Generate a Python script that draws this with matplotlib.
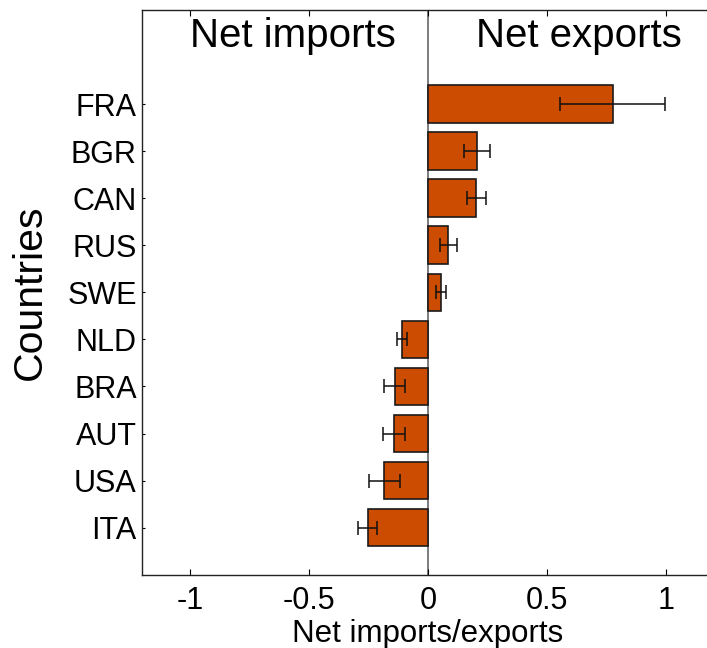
import matplotlib
matplotlib.use("Agg")
import matplotlib.pyplot as plt
import numpy as np

plt.rcParams['font.family'] = ['Liberation Sans', 'DejaVu Sans']

# Net trade balance per country, ordered top to bottom as drawn
countries = ["FRA", "BGR", "CAN", "RUS", "SWE", "NLD", "BRA", "AUT", "USA", "ITA"]
net_values = [0.775, 0.207, 0.203, 0.086, 0.056, -0.109, -0.140, -0.144, -0.183, -0.253]
net_errors = [0.222, 0.055, 0.040, 0.034, 0.021, 0.022, 0.045, 0.046, 0.066, 0.039]
xticks = [-1, -0.5, 0, 0.5, 1]
xticklabels = ["-1", "-0.5", "0", "0.5", "1"]

bar_color = "#cc4c02"

fig = plt.figure(figsize=(7.07, 6.48), dpi=100)
ax = fig.add_axes([142.3 / 707, 1 - 574.7 / 648, (713.7 - 142.3) / 707, (574.7 - 10) / 648])

n = len(countries)
ypos = np.arange(n, 0, -1)  # FRA at top (10), ITA at bottom (1)

ax.barh(ypos, net_values, height=0.8, color=bar_color, edgecolor="#1a1a1a",
        linewidth=1.2, zorder=2)
ax.errorbar(net_values, ypos, xerr=net_errors, fmt="none", ecolor="#111111",
            elinewidth=1.1, capsize=5, capthick=1.1, zorder=3)

ax.axvline(0, color="#666666", linewidth=1.2, zorder=1)

ax.set_xlim(-1.2, 1.2)
ax.set_ylim(0, 12)
ax.set_xticks(xticks)
ax.set_xticklabels(xticklabels)
ax.set_yticks(ypos)
ax.set_yticklabels(countries)

ax.tick_params(axis="x", direction="in", length=4.5, width=0.8, labelsize=22,
               pad=8, top=True, colors="black")
ax.tick_params(axis="y", direction="in", length=2.5, width=0.8, labelsize=22,
               pad=4, right=True, colors="black")

for side in ["left", "bottom", "top", "right"]:
    ax.spines[side].set_linewidth(1.0)
    ax.spines[side].set_color("#222222")

ax.text(-1.0, 11.22, "Net imports", fontsize=29, ha="left", va="baseline")
ax.text(0.2, 11.22, "Net exports", fontsize=29, ha="left", va="baseline")

ax.set_xlabel("Net imports/exports", fontsize=22.5, labelpad=2)
ax.set_ylabel("Countries", fontsize=29.5, labelpad=13)

fig.savefig("out.png", dpi=100, facecolor="white")
